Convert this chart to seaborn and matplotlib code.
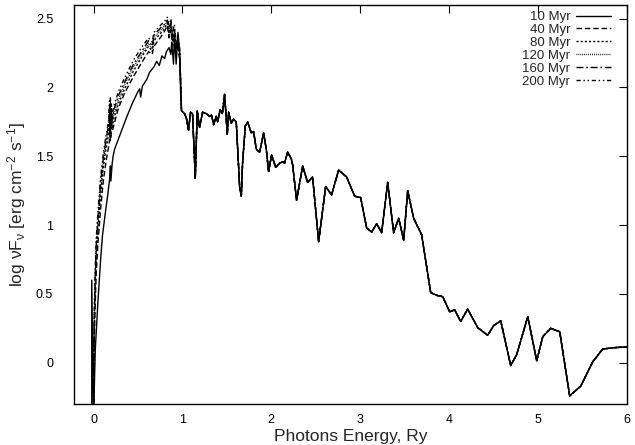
import matplotlib
matplotlib.use("Agg")
import matplotlib.pyplot as plt
import seaborn as sns
import pandas as pd

# ---- data ----
ages = ["10 Myr", "40 Myr", "80 Myr", "120 Myr", "160 Myr", "200 Myr"]

# 10 Myr low-energy part
head10_x = [-0.02, -0.02, 0.0, 0.02, 0.05, 0.08, 0.10, 0.135, 0.16, 0.18, 0.19, 0.195,
            0.21, 0.22, 0.236, 0.30, 0.37, 0.44, 0.50, 0.52, 0.53, 0.55, 0.60, 0.63,
            0.68, 0.71, 0.74, 0.77, 0.80, 0.82, 0.85, 0.87, 0.88, 0.90, 0.91, 0.93,
            0.95, 0.97, 0.98]
head10_y = [-0.4, 0.6, -0.4, 0.1, 0.45, 0.75, 0.92, 1.1, 1.22, 1.33, 1.43, 1.32,
            1.45, 1.5, 1.55, 1.66, 1.78, 1.89, 1.97, 1.99, 1.93, 2.01, 2.06, 2.11,
            2.15, 2.19, 2.16, 2.23, 2.21, 2.26, 2.29, 2.24, 2.33, 2.17, 2.38, 2.17,
            2.40, 2.25, 1.95]

# older populations, low-energy part
head_x = [0.0, 0.005, 0.01, 0.02, 0.03, 0.05, 0.08, 0.11, 0.14, 0.17, 0.18, 0.185,
          0.19, 0.195, 0.2, 0.21, 0.23, 0.28, 0.35, 0.45, 0.55, 0.62, 0.66, 0.68,
          0.75, 0.8, 0.83, 0.85, 0.87, 0.89, 0.91, 0.93, 0.95, 0.97, 0.985]
head40_y = [-0.4, 0.0, 0.2, 0.45, 0.65, 0.87, 1.12, 1.32, 1.46, 1.57, 1.62, 1.6,
            1.65, 1.63, 1.67, 1.68, 1.73, 1.85, 1.96, 2.08, 2.19, 2.26, 2.24, 2.3,
            2.36, 2.41, 2.45, 2.36, 2.42, 2.3, 2.36, 2.24, 2.29, 2.2, 1.95]
head80_y = [-0.4, 0.05, 0.3, 0.55, 0.75, 0.97, 1.22, 1.42, 1.55, 1.66, 1.79, 1.64,
            1.83, 1.67, 1.78, 1.71, 1.78, 1.88, 1.99, 2.12, 2.23, 2.3, 2.26, 2.34,
            2.39, 2.43, 2.47, 2.38, 2.44, 2.33, 2.39, 2.26, 2.31, 2.22, 1.95]
head120_y = [-0.4, 0.1, 0.35, 0.6, 0.8, 1.02, 1.27, 1.46, 1.59, 1.7, 1.83, 1.67,
             1.87, 1.7, 1.82, 1.74, 1.81, 1.91, 2.02, 2.15, 2.25, 2.32, 2.28, 2.36,
             2.41, 2.45, 2.48, 2.4, 2.46, 2.35, 2.41, 2.28, 2.33, 2.24, 1.95]
head160_y = [-0.4, 0.15, 0.4, 0.65, 0.85, 1.06, 1.31, 1.49, 1.62, 1.73, 1.86, 1.7,
             1.9, 1.72, 1.85, 1.77, 1.84, 1.94, 2.04, 2.17, 2.27, 2.34, 2.3, 2.38,
             2.43, 2.46, 2.49, 2.42, 2.47, 2.37, 2.43, 2.3, 2.35, 2.26, 1.95]
head200_y = [-0.4, 0.2, 0.45, 0.7, 0.9, 1.1, 1.35, 1.52, 1.65, 1.76, 1.9, 1.72,
             1.93, 1.75, 1.88, 1.8, 1.87, 1.97, 2.07, 2.2, 2.3, 2.36, 2.33, 2.4,
             2.45, 2.48, 2.51, 2.44, 2.5, 2.4, 2.46, 2.32, 2.38, 2.28, 1.95]

# common high-energy part (all ages coincide)
tail_x = [0.99, 1.024, 1.044, 1.069, 1.092, 1.114, 1.145, 1.167, 1.193, 1.227, 1.269,
          1.306, 1.328, 1.351, 1.381, 1.396, 1.426, 1.449, 1.475, 1.486, 1.505, 1.520,
          1.550, 1.576, 1.606, 1.621, 1.644, 1.663, 1.677, 1.708, 1.734, 1.775, 1.801,
          1.832, 1.869, 1.914, 1.944, 1.970, 2.004, 2.049, 2.094, 2.128, 2.150, 2.184,
          2.226, 2.240, 2.285, 2.353, 2.409, 2.465, 2.533, 2.612, 2.679, 2.758, 2.848,
          2.938, 3.006, 3.073, 3.130, 3.186, 3.242, 3.310, 3.377, 3.434, 3.490, 3.535,
          3.602, 3.692, 3.794, 3.861, 3.929, 4.008, 4.064, 4.131, 4.210, 4.323, 4.435,
          4.503, 4.582, 4.694, 4.762, 4.886, 4.987, 5.055, 5.145, 5.246, 5.358, 5.482,
          5.617, 5.730, 5.865, 6.0, 6.05]
tail_y = [1.83, 1.81, 1.78, 1.69, 1.82, 1.81, 1.34, 1.83, 1.71, 1.82, 1.81,
          1.79, 1.80, 1.73, 1.79, 1.75, 1.84, 1.81, 1.95, 1.84, 1.66, 1.82,
          1.74, 1.77, 1.75, 1.57, 1.28, 1.21, 1.45, 1.72, 1.75, 1.67, 1.68,
          1.55, 1.53, 1.67, 1.55, 1.39, 1.51, 1.42, 1.45, 1.46, 1.45, 1.53,
          1.48, 1.44, 1.18, 1.43, 1.31, 1.35, 0.88, 1.28, 1.22, 1.40, 1.35,
          1.21, 1.20, 0.98, 0.95, 1.01, 0.945, 1.31, 0.945, 1.05, 0.89, 1.25,
          1.05, 0.93, 0.51, 0.49, 0.48, 0.37, 0.385, 0.30, 0.39, 0.255, 0.20,
          0.27, 0.305, -0.02, 0.06, 0.335, 0.015, 0.19, 0.25, 0.225, -0.24, -0.17,
          0.007, 0.10, 0.11, 0.115, 0.117]

x_ticks = [0, 1, 2, 3, 4, 5, 6]
x_tick_labels = ["0", "1", "2", "3", "4", "5", "6"]
y_ticks = [0, 0.5, 1, 1.5, 2, 2.5]
y_tick_labels = ["0", "0.5", "1", "1.5", "2", "2.5"]

heads = {
    "10 Myr": (head10_x, head10_y),
    "40 Myr": (head_x, head40_y),
    "80 Myr": (head_x, head80_y),
    "120 Myr": (head_x, head120_y),
    "160 Myr": (head_x, head160_y),
    "200 Myr": (head_x, head200_y),
}
styles = {
    "10 Myr": "-",
    "40 Myr": (0, (4, 2)),
    "80 Myr": (0, (1.5, 1.5)),
    "120 Myr": (0, (0.6, 0.8)),
    "160 Myr": (0, (5, 2, 1.2, 2)),
    "200 Myr": (0, (3, 2, 1, 2, 1, 2)),
}

# ---- plotting ----
sns.set_style("white")
plt.rcParams["font.family"] = ["Liberation Sans", "DejaVu Sans"]
plt.rcParams["mathtext.default"] = "regular"

fig = plt.figure(figsize=(6.35, 4.45), dpi=100)
ax = fig.add_axes([0.1165, 0.092, 0.8705, 0.897])

draw_order = ["200 Myr", "160 Myr", "120 Myr", "80 Myr", "40 Myr", "10 Myr"]
lines = {}
for age in draw_order:
    hx, hy = heads[age]
    df = pd.DataFrame({"E": list(hx) + tail_x, "F": list(hy) + tail_y})
    sns.lineplot(data=df, x="E", y="F", ax=ax, sort=False, estimator=None,
                 color="black", linewidth=1.0, linestyle=styles[age])
    lines[age] = ax.lines[-1]

ax.set_xlim(-0.22, 6)
ax.set_ylim(-0.3, 2.6)
ax.set_xticks(x_ticks)
ax.set_xticklabels(x_tick_labels)
ax.set_yticks(y_ticks)
ax.set_yticklabels(y_tick_labels)
ax.tick_params(direction="in", top=True, right=True, length=6, width=0.8,
               labelsize=9, colors="black")
ax.tick_params(axis="x", pad=7)
ax.tick_params(axis="y", pad=15)
for s in ax.spines.values():
    s.set_linewidth(1.0)
    s.set_color("black")

ax.set_xlabel("Photons Energy, Ry", fontsize=12.5, labelpad=2)
ax.set_ylabel("log νF$_ν$ [erg cm$^{-2}$ s$^{-1}$]", fontsize=12.5, labelpad=6)

leg = ax.legend([lines[a] for a in ages], ages, loc="upper right", frameon=False,
                markerfirst=False, fontsize=9.5, handlelength=2.7, labelspacing=0.05,
                handletextpad=0.4, borderaxespad=0.0, borderpad=0.0,
                bbox_to_anchor=(0.972, 0.985))

fig.savefig("out.png", dpi=100)
